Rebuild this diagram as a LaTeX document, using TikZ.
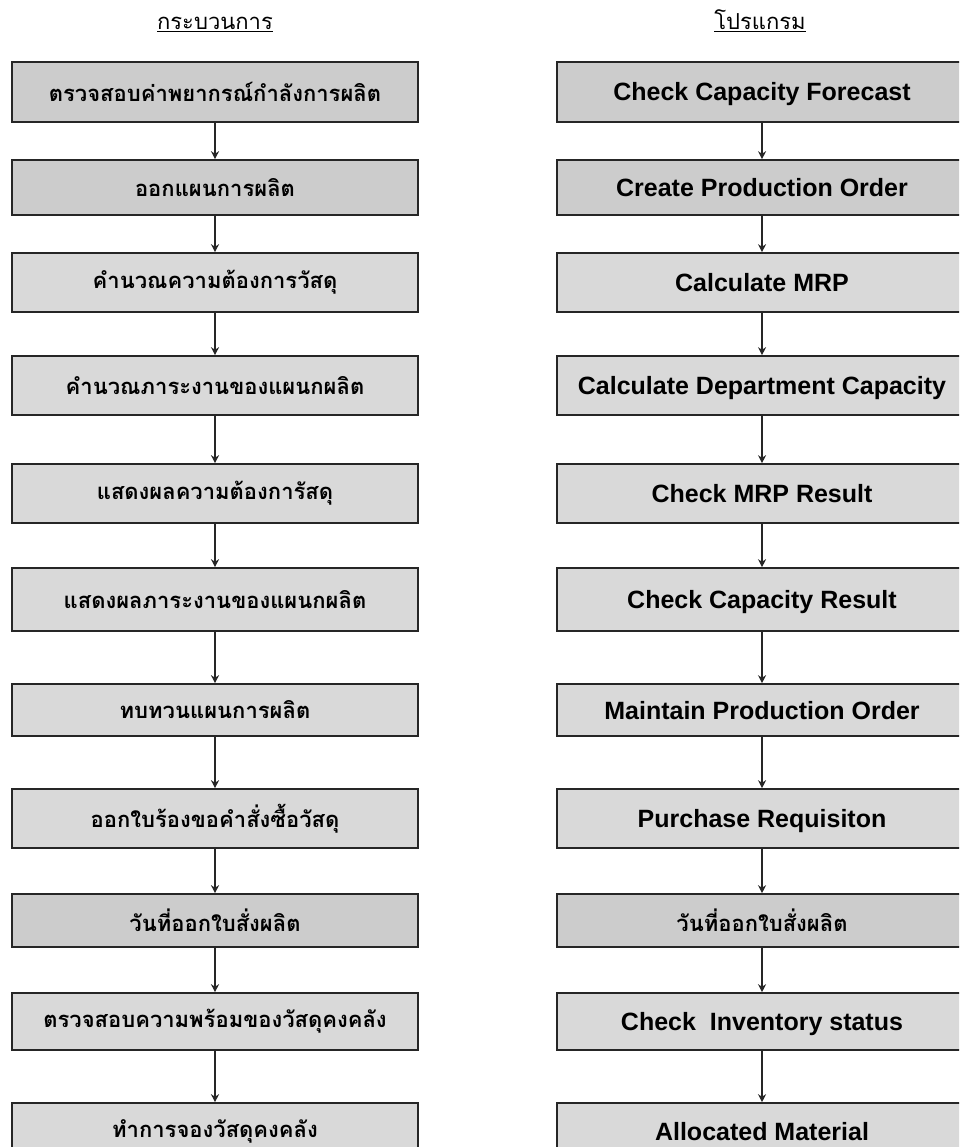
\documentclass[tikz,border=0pt]{standalone}
\usepackage{fontspec}
\setmainfont{Liberation Sans}
\newfontfamily\thaifont[Script=Thai]{Loma}
\usepackage{tikz}
\usetikzlibrary{arrows.meta}
\usepackage{xcolor}

\begin{document}
\begin{tikzpicture}[x=1pt,y=-1pt,>={Stealth[length=8pt,width=8pt]},line cap=round,
  box/.style={draw=black!85,line width=1.6pt,fill=gray!30,inner sep=0pt},
  boxdark/.style={box,fill=gray!40},
  lcol/.style={minimum width=406pt},
  rcol/.style={minimum width=410pt},
  th/.style={font=\thaifont\bfseries\fontsize{22}{26}\selectfont},
  en/.style={font=\bfseries\fontsize{25}{30}\selectfont,text height=18pt,text depth=0pt},
  head/.style={font=\thaifont\fontsize{22}{26}\selectfont,anchor=base},
  flow/.style={->,line width=1.3pt,black!85}]
\useasboundingbox (0,0) rectangle (959,1147);
\clip (0,0) rectangle (959,1147);
% headings
\node[head] (hproc) at (215,30) {\underline{กระบวนการ}};
\node[head] (hprog) at (760,30) {\underline{โปรแกรม}};
% process column
\node[boxdark,lcol,th,minimum height=60pt] (l1) at (215,92) {ตรวจสอบค่าพยากรณ์กำลังการผลิต};
\node[boxdark,lcol,th,minimum height=55pt] (l2) at (215,187.5) {ออกแผนการผลิต};
\node[box,lcol,th,minimum height=59pt] (l3) at (215,282.5) {คำนวณความต้องการวัสดุ};
\node[box,lcol,th,minimum height=59pt] (l4) at (215,385.5) {คำนวณภาระงานของแผนกผลิต};
\node[box,lcol,th,minimum height=59pt] (l5) at (215,493.5) {แสดงผลความต้องการัสดุ};
\node[box,lcol,th,minimum height=63pt] (l6) at (215,599.5) {แสดงผลภาระงานของแผนกผลิต};
\node[box,lcol,th,minimum height=52pt] (l7) at (215,710) {ทบทวนแผนการผลิต};
\node[box,lcol,th,minimum height=59pt] (l8) at (215,818.5) {ออกใบร้องขอคำสั่งซื้อวัสดุ};
\node[boxdark,lcol,th,minimum height=53pt] (l9) at (215,920.5) {วันที่ออกใบสั่งผลิต};
\node[box,lcol,th,minimum height=57pt] (l10) at (215,1021.5) {ตรวจสอบความพร้อมของวัสดุคงคลัง};
\node[box,lcol,th,minimum height=57pt] (l11) at (215,1131.5) {ทำการจองวัสดุคงคลัง};
% program column
\node[boxdark,rcol,en,minimum height=60pt] (r1) at (762,92) {Check Capacity Forecast};
\node[boxdark,rcol,en,minimum height=55pt] (r2) at (762,187.5) {Create Production Order};
\node[box,rcol,en,minimum height=59pt] (r3) at (762,282.5) {Calculate MRP};
\node[box,rcol,en,minimum height=59pt] (r4) at (762,385.5) {Calculate Department Capacity};
\node[box,rcol,en,minimum height=59pt] (r5) at (762,493.5) {Check MRP Result};
\node[box,rcol,en,minimum height=63pt] (r6) at (762,599.5) {Check Capacity Result};
\node[box,rcol,en,minimum height=52pt] (r7) at (762,710) {Maintain Production Order};
\node[box,rcol,en,minimum height=59pt] (r8) at (762,818.5) {Purchase Requisiton};
\node[boxdark,rcol,th,minimum height=53pt] (r9) at (762,920.5) {วันที่ออกใบสั่งผลิต};
\node[box,rcol,en,minimum height=57pt] (r10) at (762,1021.5) {Check\ \ Inventory status};
\node[box,rcol,en,minimum height=57pt] (r11) at (762,1131.5) {Allocated Material};
% arrows
\draw[flow] (l1) -- (l2);
\draw[flow] (l2) -- (l3);
\draw[flow] (l3) -- (l4);
\draw[flow] (l4) -- (l5);
\draw[flow] (l5) -- (l6);
\draw[flow] (l6) -- (l7);
\draw[flow] (l7) -- (l8);
\draw[flow] (l8) -- (l9);
\draw[flow] (l9) -- (l10);
\draw[flow] (l10) -- (l11);
\draw[flow] (r1) -- (r2);
\draw[flow] (r2) -- (r3);
\draw[flow] (r3) -- (r4);
\draw[flow] (r4) -- (r5);
\draw[flow] (r5) -- (r6);
\draw[flow] (r6) -- (r7);
\draw[flow] (r7) -- (r8);
\draw[flow] (r8) -- (r9);
\draw[flow] (r9) -- (r10);
\draw[flow] (r10) -- (r11);
\end{tikzpicture}
\end{document}
